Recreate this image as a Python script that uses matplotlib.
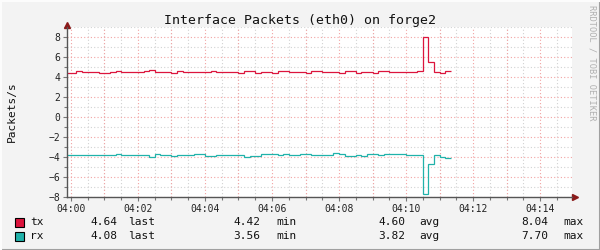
import numpy as np
import matplotlib as mpl
mpl.use('Agg')
import matplotlib.pyplot as plt
from matplotlib.lines import Line2D
from matplotlib.patches import Rectangle

# samples every 10 s, first sample starts at 03:59:50 (-10 s from 04:00)
t_start = -10
t_step = 10
tx = [4.42, 4.42, 4.60, 4.50, 4.50, 4.50, 4.43, 4.43, 4.53, 4.60,
      4.53, 4.53, 4.53, 4.47, 4.63, 4.73, 4.53, 4.53, 4.53, 4.43,
      4.63, 4.53, 4.53, 4.53, 4.47, 4.47, 4.63, 4.53, 4.53, 4.53,
      4.53, 4.43, 4.63, 4.63, 4.43, 4.53, 4.53, 4.43, 4.63, 4.63,
      4.47, 4.53, 4.53, 4.43, 4.63, 4.63, 4.53, 4.53, 4.53, 4.43,
      4.63, 4.63, 4.43, 4.53, 4.53, 4.43, 4.63, 4.63, 4.53, 4.53,
      4.53, 4.53, 4.53, 4.63, 8.04, 5.53, 4.53, 4.43, 4.64]
rx = [3.75, 3.75, 3.75, 3.75, 3.75, 3.75, 3.75, 3.75, 3.75, 3.65,
      3.75, 3.75, 3.75, 3.75, 3.75, 3.97, 3.65, 3.75, 3.75, 3.85,
      3.75, 3.75, 3.75, 3.65, 3.65, 3.85, 3.85, 3.75, 3.75, 3.75,
      3.75, 3.75, 3.95, 3.85, 3.85, 3.65, 3.65, 3.65, 3.75, 3.65,
      3.75, 3.75, 3.65, 3.65, 3.75, 3.75, 3.75, 3.75, 3.56, 3.70,
      3.85, 3.85, 3.75, 3.85, 3.70, 3.65, 3.75, 3.70, 3.70, 3.70,
      3.70, 3.75, 3.75, 3.75, 7.70, 4.70, 3.75, 3.95, 4.08]

series = ['tx', 'rx']
colors = ['#dc143c', '#20b2aa']
stats = {'tx': ['4.64', '4.42', '4.60', '8.04'],
         'rx': ['4.08', '3.56', '3.82', '7.70']}
stat_names = ['last', 'min', 'avg', 'max']

xticks = [0, 120, 240, 360, 480, 600, 720, 840]
xticklabels = ['04:00', '04:02', '04:04', '04:06', '04:08', '04:10', '04:12', '04:14']
yticks = [-8, -6, -4, -2, 0, 2, 4, 6, 8]

mono = 'DejaVu Sans Mono'
W, H = 600, 250

fig = plt.figure(figsize=(6, 2.5), dpi=100, facecolor='#f3f3f3')
ax = fig.add_axes([67 / W, 53 / H, 505 / W, 170 / H])
ax.set_facecolor('white')

edges = t_start + t_step * np.arange(len(tx) + 1)
ax.stairs(tx, edges, color=colors[0], lw=0.9, baseline=None)
ax.stairs(-np.array(rx), edges, color=colors[1], lw=0.9, baseline=None)

ax.set_xlim(-7, 897)
ax.set_ylim(-8, 9)

ax.set_xticks(xticks)
ax.set_xticklabels(xticklabels)
ax.set_xticks(np.arange(0, 900, 30), minor=True)
ax.set_yticks(yticks)
ax.set_yticks(np.arange(-8, 10, 1), minor=True)

for lab in ax.get_xticklabels() + ax.get_yticklabels():
    lab.set_fontfamily(mono)
    lab.set_fontsize(7)
    lab.set_color('#222222')
ax.tick_params(which='both', direction='out', color='#777777', width=0.8)
ax.tick_params(which='major', length=3, pad=2)
ax.tick_params(which='minor', length=2)

# rrd-style grids: minor grey, major pink
ax.grid(True, which='minor', color='#d2d2d2', ls=(0, (1, 2)), lw=0.8)
for v in np.arange(0, 900, 60):
    ax.axvline(v, color='#f2a3a3', ls=(0, (1, 2)), lw=0.8, zorder=0.6)
for v in yticks:
    ax.axhline(v, color='#f2a3a3', ls=(0, (1, 2)), lw=0.8, zorder=0.6)
ax.set_axisbelow(True)

for s in ['top', 'right']:
    ax.spines[s].set_visible(False)
for s in ['left', 'bottom']:
    ax.spines[s].set_color('#555555')
    ax.spines[s].set_linewidth(1.0)

# axis arrows
ax.plot([0], [1.01], marker='^', ms=4, color='#8b1a1a', transform=ax.transAxes, clip_on=False)
ax.plot([1.005], [0], marker='>', ms=4, color='#8b1a1a', transform=ax.transAxes, clip_on=False)

fig.text(300 / W, 1 - 24 / H, 'Interface Packets (eth0) on forge2', ha='center',
         va='baseline', family=mono, fontsize=9.5, color='#111111')
fig.text(12 / W, 1 - 112 / H, 'Packets/s', rotation=90, ha='center', va='center',
         family=mono, fontsize=8, color='#111111')
fig.text(592 / W, 1 - 63 / H, 'RRDTOOL / TOBI OETIKER', rotation=270, ha='center',
         va='center', family=mono, fontsize=6.2, color='#b0b0b0')

row_y = [222, 236]
val_x = [117, 260, 405, 548]
name_x = [128, 276, 419, 563]
for i, name in enumerate(series):
    y = 1 - row_y[i] / H
    fig.patches.append(Rectangle((15 / W, y - 4.5 / H), 9 / W, 9 / H, transform=fig.transFigure,
                                 facecolor=colors[i], edgecolor='black', lw=0.8))
    fig.text(30 / W, y, name, ha='left', va='center', family=mono, fontsize=8, color='#111111')
    for j in range(4):
        fig.text(val_x[j] / W, y, stats[name][j], ha='right', va='center', family=mono,
                 fontsize=8, color='#111111')
        fig.text(name_x[j] / W, y, stat_names[j], ha='left', va='center', family=mono,
                 fontsize=8, color='#111111')

# frame shading
fig.lines.append(Line2D([0, 1], [0.5 / H, 0.5 / H], transform=fig.transFigure, color='#a0a0a0', lw=1.5))
fig.lines.append(Line2D([1 - 0.5 / W, 1 - 0.5 / W], [0, 1], transform=fig.transFigure, color='#a0a0a0', lw=1.5))
fig.lines.append(Line2D([0, 1], [1 - 0.5 / H, 1 - 0.5 / H], transform=fig.transFigure, color='#fcfcfc', lw=1.5))
fig.lines.append(Line2D([0.5 / W, 0.5 / W], [0, 1], transform=fig.transFigure, color='#fcfcfc', lw=1.5))

plt.savefig('out.png', dpi=100, facecolor=fig.get_facecolor())
